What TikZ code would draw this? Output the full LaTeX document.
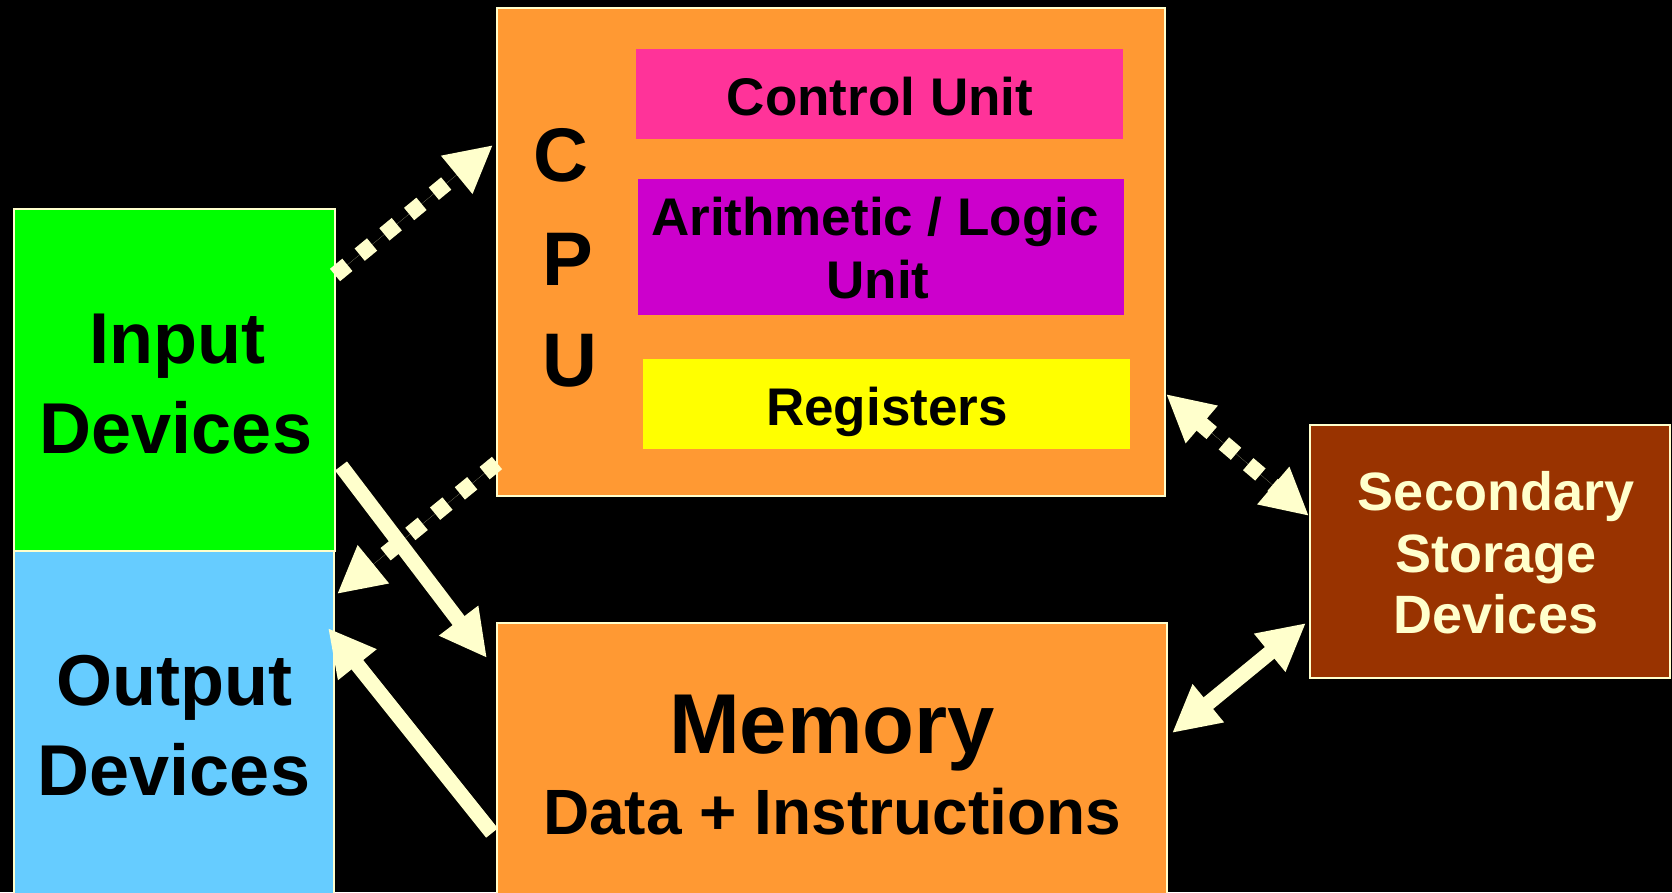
\documentclass[tikz,border=0pt]{standalone}
\usepackage{fontspec}
\setmainfont{Liberation Sans}
\usetikzlibrary{arrows.meta,calc}
\definecolor{cream}{HTML}{FFFFCC}
\definecolor{ingreen}{HTML}{00FF00}
\definecolor{outblue}{HTML}{66CCFF}
\definecolor{unitorange}{HTML}{FF9933}
\definecolor{cupink}{HTML}{FF3399}
\definecolor{alumag}{HTML}{CC00CC}
\definecolor{regyellow}{HTML}{FFFF00}
\definecolor{secbrown}{HTML}{993300}
\newcommand{\fsz}[1]{\fontsize{#1}{#1}\selectfont\bfseries}
\begin{document}
\begin{tikzpicture}[x=1pt,y=-1pt,
  box/.style={draw=cream,line width=1.6pt,inner sep=0pt,outer sep=0pt,anchor=north west},
  part/.style={inner sep=0pt,outer sep=0pt,anchor=north west},
  lbl/.style={inner sep=0pt,outer sep=0pt,anchor=base,text=black},
  head/.tip={Triangle[length=47pt,width=46pt]},
  flow/.style={draw=cream,fill=cream,line width=15pt,line cap=butt},
  dotflow/.style={draw=cream,fill=cream,line width=16pt,line cap=butt,dash pattern=on 16pt off 16pt}]
\useasboundingbox (0,0) rectangle (1672,892);
\clip (0,0) rectangle (1672,892);
\fill[black] (0,0) rectangle (1672,892);

% main blocks
\node[box,fill=ingreen,minimum width=321pt,minimum height=342pt] (in) at (14,209) {};
\node[box,fill=outblue,minimum width=320pt,minimum height=360pt] (out) at (14,551) {};
\node[box,fill=unitorange,minimum width=668pt,minimum height=488pt] (cpu) at (497,8) {};
\node[box,fill=unitorange,minimum width=670pt,minimum height=290pt] (mem) at (497,623) {};
\node[box,fill=secbrown,minimum width=360pt,minimum height=253pt] (sec) at (1310,425) {};

% parts of the processor
\node[part,fill=cupink,minimum width=487pt,minimum height=90pt] (cu) at (636,49) {};
\node[part,fill=alumag,minimum width=486pt,minimum height=136pt] (alu) at (638,179) {};
\node[part,fill=regyellow,minimum width=487pt,minimum height=90pt] (reg) at (643,359) {};

% labels
\node[lbl,font=\fsz{72}] (inA) at (177,363) {Input};
\node[lbl,font=\fsz{72}] (inB) at (176,453) {Devices};
\node[lbl,font=\fsz{72}] (outA) at (174,705) {Output};
\node[lbl,font=\fsz{72}] (outB) at (174,795) {Devices};
\node[lbl,font=\fsz{76}] (cpuC) at (561,181) {C};
\node[lbl,font=\fsz{76}] (cpuP) at (568,285) {P};
\node[lbl,font=\fsz{76}] (cpuU) at (570,386) {U};
\node[lbl,font=\fsz{53}] (cuT) at (880,115) {Control Unit};
\node[lbl,font=\fsz{53}] (aluA) at (875,235) {Arithmetic / Logic};
\node[lbl,font=\fsz{53}] (aluB) at (878,298) {Unit};
\node[lbl,font=\fsz{53}] (regT) at (887,425) {Registers};
\node[lbl,font=\fsz{85}] (memA) at (832,753) {Memory};
\node[lbl,font=\fsz{64}] (memB) at (832,834) {Data + Instructions};
\node[lbl,font=\fsz{54},text=cream] (secA) at (1496,510) {Secondary};
\node[lbl,font=\fsz{54},text=cream] (secB) at (1496,572) {Storage};
\node[lbl,font=\fsz{54},text=cream] (secC) at (1496,633) {Devices};

% data paths
\draw[dotflow,-head] ($(in.north east)+(0,66)$) -- ($(cpu.north west)+(-4,137)$);
\draw[dotflow,-head] ($(cpu.south west)+(0,-33)$) -- ($(out.north east)+(3,43)$);
\draw[flow,-head] ($(in.south east)+(6,-85)$) -- ($(mem.north west)+(-10,35)$);
\draw[flow,-head] ($(mem.north west)+(-5,210)$) -- ($(out.north east)+(-6,77)$);
\draw[dotflow,head-head] ($(cpu.north east)+(1,386)$) -- ($(sec.north west)+(-1,91)$);
\draw[flow,head-head] ($(mem.north east)+(5,110)$) -- ($(sec.north west)+(-4,198)$);
\end{tikzpicture}
\end{document}
